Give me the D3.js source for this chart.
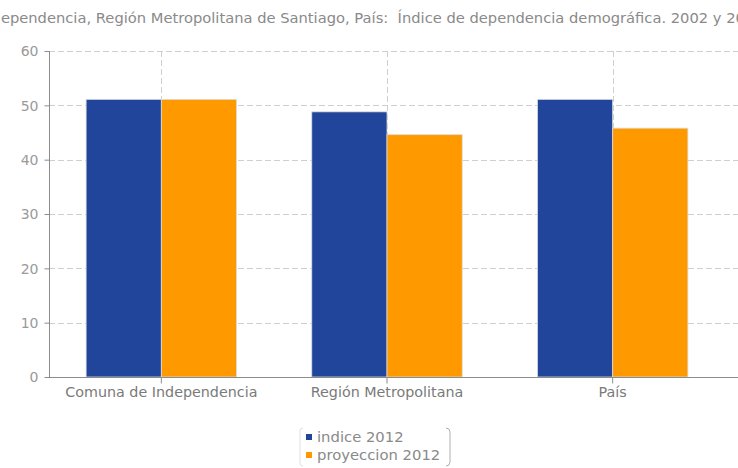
<!DOCTYPE html>
<html><head><meta charset="utf-8">
<script src="https://cdn.jsdelivr.net/npm/d3@7"></script>
<style>body{margin:0;background:#fff}svg{display:block}text{font-family:"DejaVu Sans",Verdana,sans-serif}</style>
</head><body><svg id="c" width="738" height="468"></svg>
<script>
const titleText = "Comuna de Independencia, Región Metropolitana de Santiago, País:  Índice de dependencia demográfica. 2002 y 2012";
const categories = ["Comuna de Independencia", "Región Metropolitana", "País"];
const seriesNames = ["indice 2012", "proyeccion 2012"];
const indice2012 = [51.1, 48.8, 51.1];
const proyeccion2012 = [51.1, 44.6, 45.8];
const yTicks = [0, 10, 20, 30, 40, 50, 60];
const colors = ["#21459a", "#ff9900"];

const svg = d3.select("#c");
const x = d3.scaleBand().domain(categories).range([48.5, 725.5]).paddingInner(0).paddingOuter(0);
const y = d3.scaleLinear().domain([0, 60]).range([377, 51]);
const xs = d3.scaleBand().domain(seriesNames).range([0, x.bandwidth()]).paddingInner(0).paddingOuter(0.5);

// horizontal grid
svg.append("g").selectAll("line").data(yTicks.filter(d => d > 0)).join("line")
  .attr("x1", 49).attr("x2", 738).attr("y1", d => Math.round(y(d)) + 0.5).attr("y2", d => Math.round(y(d)) + 0.5)
  .attr("stroke", "#cfcfcf").attr("stroke-dasharray", "6,3");
// vertical grid
svg.append("g").selectAll("line").data(categories).join("line")
  .attr("x1", d => Math.round(x(d) + x.bandwidth() / 2) + 0.5).attr("x2", d => Math.round(x(d) + x.bandwidth() / 2) + 0.5)
  .attr("y1", 51).attr("y2", 377).attr("stroke", "#cfcfcf").attr("stroke-dasharray", "6,3");

// bars
const series = [indice2012, proyeccion2012];
const g = svg.append("g");
series.forEach((vals, si) => {
  g.selectAll(null).data(categories).join("rect")
    .attr("x", (d) => x(d) + xs(seriesNames[si]))
    .attr("width", xs.bandwidth())
    .attr("y", (d, i) => y(vals[i]))
    .attr("height", (d, i) => y(0) - y(vals[i]))
    .attr("fill", colors[si])
    .attr("stroke", "#dcdcdc").attr("stroke-width", 0.8);
});

// y axis
const yAxis = d3.axisLeft(y).tickValues(yTicks).tickSize(5).tickPadding(6);
const ya = svg.append("g").attr("transform", "translate(49.5,0)").call(yAxis);
ya.select(".domain").attr("stroke", "#8c8c8c").attr("d", "M0,51V377");
ya.selectAll(".tick line").attr("stroke", "#8c8c8c");
ya.selectAll(".tick text").attr("fill", "#9a9a9a").style("font-size", "14px").attr("dy", "0.35em");

// x axis
const xAxis = d3.axisBottom(x).tickSize(6).tickPadding(3);
const xa = svg.append("g").attr("transform", "translate(0,377.5)").call(xAxis);
xa.select(".domain").attr("stroke", "#8c8c8c").attr("d", "M49,0H738");
xa.selectAll(".tick line").attr("stroke", "#8c8c8c");
xa.selectAll(".tick text").attr("fill", "#7a7a7a").style("font-size", "14.3px");

// title
const t = svg.append("text").attr("y", 23).attr("fill", "#8a8a8a").style("font-size", "14px").attr("xml:space", "preserve").text(titleText);
const node = t.node();
const pIdx = titleText.indexOf("ependencia");
const qIdx = titleText.lastIndexOf("2012");
const P = node.getSubStringLength(0, pIdx);
const Q = node.getSubStringLength(0, qIdx);
const s = (727 - 1) / (Q - P);
t.attr("transform", `translate(${1 - P * s},0) scale(${s},1)`);

// legend
const lg = svg.append("g");
lg.append("path").attr("d", "M303,428 Q300,428 300,431 V463 Q300,466 303,466").attr("fill", "none").attr("stroke", "#e0e0e0");
lg.append("path").attr("d", "M446,428 Q450,428 450,432 V462 Q450,466 446,466").attr("fill", "none").attr("stroke", "#b0b0b0");
seriesNames.forEach((n, i) => {
  lg.append("rect").attr("x", 306).attr("y", 434 + i * 18).attr("width", 6).attr("height", 6).attr("fill", colors[i]);
  lg.append("text").attr("x", 317).attr("y", 442 + i * 18).attr("fill", "#8a8a8a").style("font-size", "14.8px").text(n);
});
</script></body></html>
